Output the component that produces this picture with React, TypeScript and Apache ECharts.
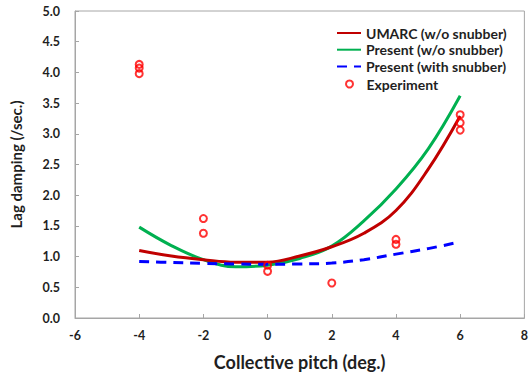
import React, { useEffect, useRef } from "react";
import * as echarts from "echarts";

const pitch = [-4, -3, -2, -1, 0, 1, 2, 3, 4, 5, 6];
const umarc = [1.1, 1.01, 0.95, 0.91, 0.91, 1.01, 1.16, 1.38, 1.75, 2.42, 3.29];
const presentNoSnubber = [1.48, 1.18, 0.95, 0.835, 0.86, 0.97, 1.17, 1.58, 2.1, 2.75, 3.62];
const presentSnubber = [0.92, 0.905, 0.89, 0.88, 0.875, 0.88, 0.895, 0.95, 1.04, 1.13, 1.24];
const expPitch = [-4, -4, -4, -2, -2, 0, 0, 2, 4, 4, 6, 6, 6];
const expDamping = [4.13, 4.07, 3.98, 1.62, 1.38, 0.86, 0.76, 0.57, 1.28, 1.2, 3.31, 3.18, 3.06];
const seriesNames = ["UMARC (w/o snubber)", "Present (w/o snubber)", "Present (with snubber)", "Experiment"];

const FONT = "Lato, 'Open Sans', sans-serif";
const TXT = "#1f1f1f";
const AX = "#a6a6a6";

export default function App() {
  const ref = useRef<HTMLDivElement>(null);
  useEffect(() => {
    if (!ref.current) return;
    const chart = echarts.init(ref.current, undefined, { renderer: "svg" });
    const pairs = (ys: number[]) => pitch.map((x, i) => [x, ys[i]]);
    const legendText = { fontFamily: FONT, fontWeight: "bold", fontSize: 14, color: TXT };
    chart.setOption({
      animation: false,
      textStyle: { fontFamily: FONT },
      grid: { left: 73, right: 2, top: 11, bottom: 58, show: true, borderColor: AX, borderWidth: 1, backgroundColor: "transparent" },
      legend: [
        {
          orient: "vertical",
          left: 336,
          top: 26,
          padding: 0,
          itemWidth: 24,
          itemHeight: 14,
          itemGap: 2.7,
          data: seriesNames.slice(0, 3).map((n) => ({ name: n, itemStyle: { opacity: 0 } })),
          textStyle: legendText,
        },
        {
          orient: "vertical",
          left: 345,
          top: 77,
          padding: 0,
          itemWidth: 24,
          itemHeight: 7,
          data: [seriesNames[3]],
          textStyle: legendText,
        },
      ],
      xAxis: {
        type: "value",
        min: -6,
        max: 8,
        interval: 2,
        name: "Collective pitch (deg.)",
        nameLocation: "middle",
        nameGap: 35,
        nameTextStyle: { fontFamily: FONT, fontWeight: "bold", fontSize: 18, color: TXT },
        axisLine: { show: true, onZero: false, lineStyle: { color: AX, width: 1 } },
        axisTick: { show: true, inside: true, length: 4, lineStyle: { color: AX } },
        splitLine: { show: false },
        axisLabel: { fontFamily: FONT, fontWeight: "bold", fontSize: 12.5, color: TXT, margin: 11 },
      },
      yAxis: {
        type: "value",
        min: 0,
        max: 5,
        interval: 0.5,
        name: "Lag damping (/sec.)",
        nameLocation: "middle",
        nameGap: 52,
        nameTextStyle: { fontFamily: FONT, fontWeight: "bold", fontSize: 15, color: TXT },
        axisLine: { show: true, onZero: false, lineStyle: { color: AX, width: 1 } },
        axisTick: { show: true, inside: true, length: 4, lineStyle: { color: AX } },
        splitLine: { show: false },
        axisLabel: { fontFamily: FONT, fontWeight: "bold", fontSize: 12.5, color: TXT, margin: 15, formatter: (v: number) => v.toFixed(1) },
      },
      series: [
        {
          name: seriesNames[0],
          type: "line",
          smooth: 0.4,
          symbol: "none",
          data: pairs(umarc),
          lineStyle: { color: "#c00000", width: 3 },
          itemStyle: { color: "#c00000" },
          z: 3,
        },
        {
          name: seriesNames[1],
          type: "line",
          smooth: 0.4,
          symbol: "none",
          data: pairs(presentNoSnubber),
          lineStyle: { color: "#00b050", width: 3 },
          itemStyle: { color: "#00b050" },
          z: 2,
        },
        {
          name: seriesNames[2],
          type: "line",
          smooth: 0.4,
          symbol: "none",
          data: pairs(presentSnubber),
          lineStyle: { color: "#0000ff", width: 3, type: [10, 7] },
          itemStyle: { color: "#0000ff" },
          z: 4,
        },
        {
          name: seriesNames[3],
          type: "scatter",
          symbol: "circle",
          symbolSize: 7,
          data: expPitch.map((x, i) => [x, expDamping[i]]),
          itemStyle: { color: "rgba(255,255,255,0)", borderColor: "#ff0000", borderWidth: 2 },
          z: 5,
        },
      ],
    });
    return () => chart.dispose();
  }, []);
  return <div ref={ref} style={{ width: 531, height: 376, position: "absolute", left: 0, top: 0, background: "#fff" }} />;
}
